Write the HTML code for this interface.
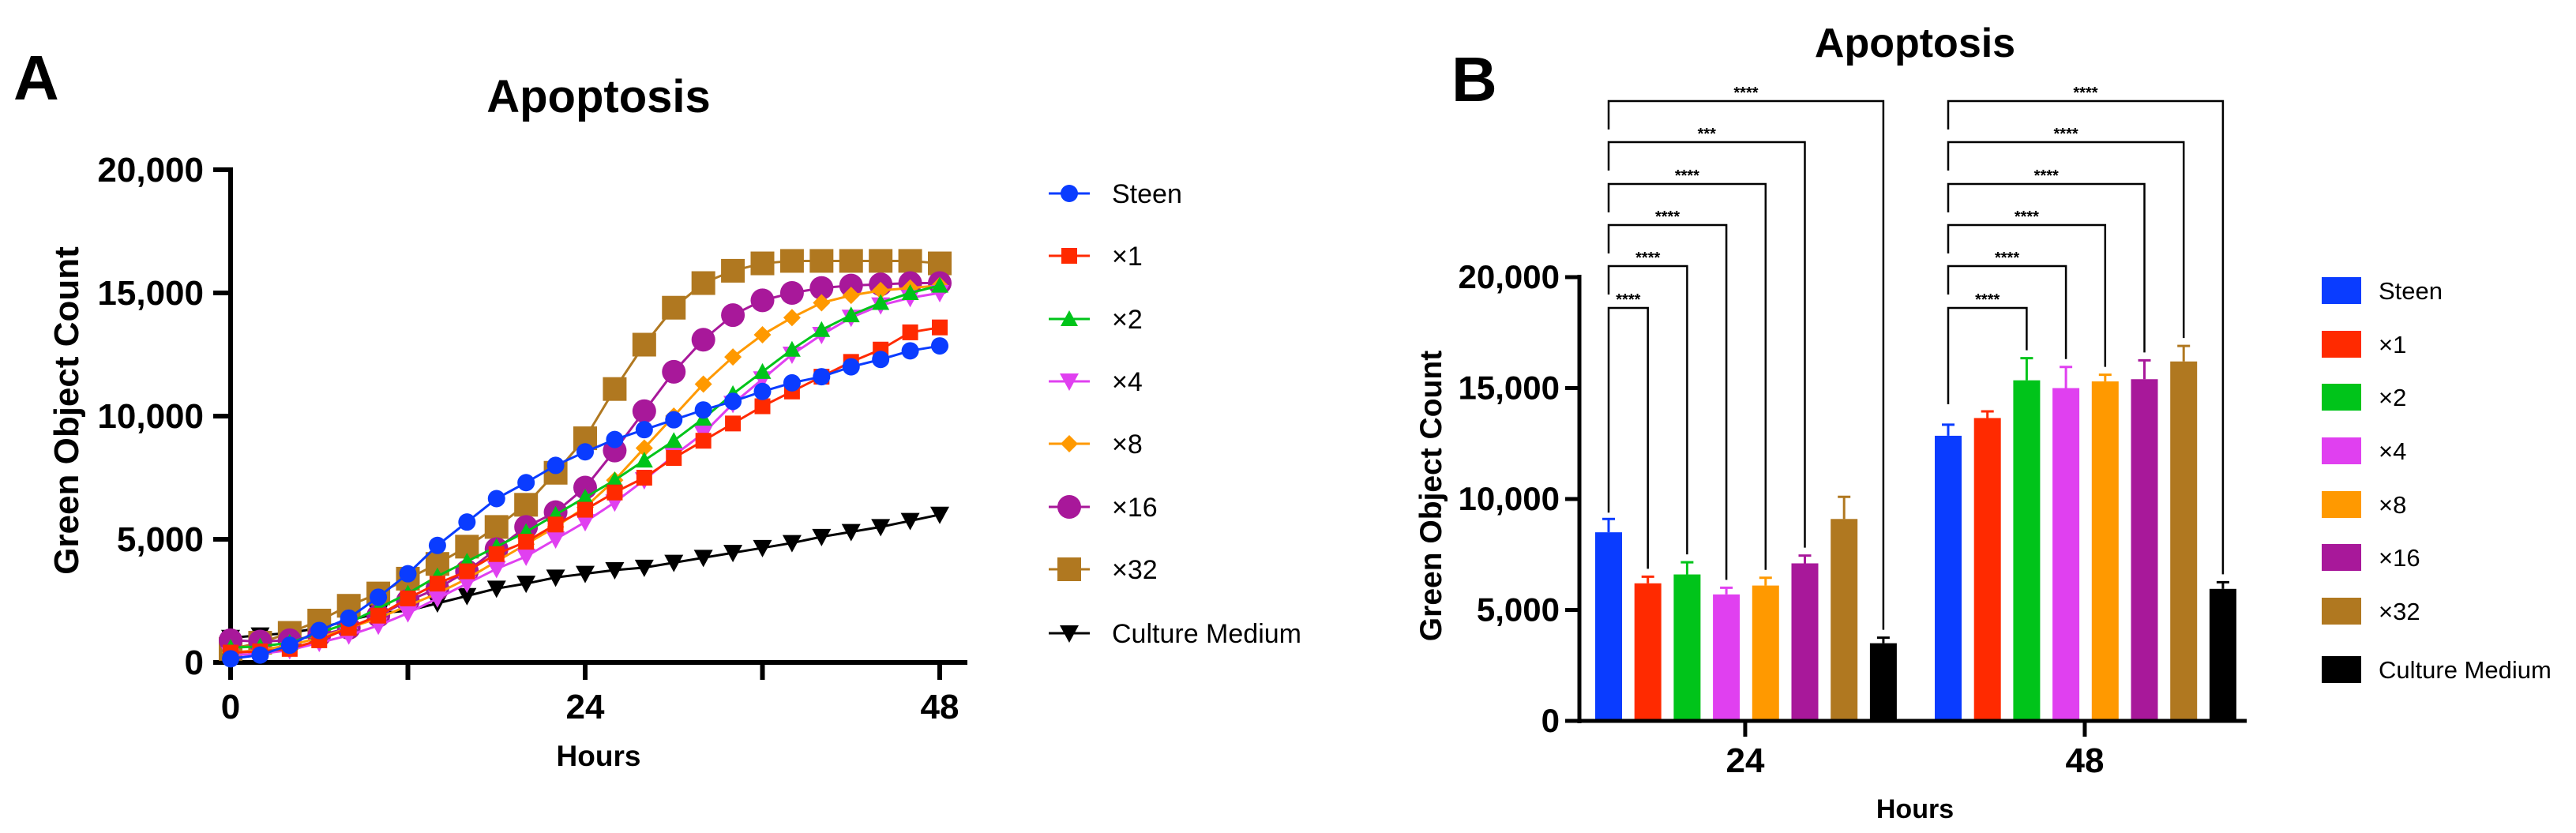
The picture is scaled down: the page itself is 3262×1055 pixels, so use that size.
<!DOCTYPE html>
<html><head><meta charset="utf-8"><style>
html,body{margin:0;padding:0;background:#fff;}
svg{display:block;font-family:"Liberation Sans",Arial,sans-serif;}
</style></head>
<body>
<svg id="fig" width="3262" height="1055" viewBox="0 0 3262 1055" xmlns="http://www.w3.org/2000/svg">
<rect width="3262" height="1055" fill="#fff"/>
<g id="panelA"></g>
<g id="panelB"></g>
</svg>
<script>
const hours = [0,2,4,6,8,10,12,14,16,18,20,22,24,26,28,30,32,34,36,38,40,42,44,46,48];
const seriesNames = ["Steen","×1","×2","×4","×8","×16","×32","Culture Medium"];
const steenVals = [150,300,700,1300,1800,2650,3600,4750,5700,6650,7300,8000,8550,9050,9450,9850,10250,10600,11000,11350,11600,12000,12300,12650,12850];
const x1Vals = [400,450,550,900,1400,1900,2600,3200,3700,4400,4900,5600,6200,6900,7500,8300,9000,9700,10400,11000,11600,12200,12700,13400,13600];
const x2Vals = [600,650,800,1200,1600,2200,2800,3500,4100,4700,5300,6000,6700,7400,8200,9000,9900,10900,11800,12700,13500,14100,14600,15000,15300];
const x4Vals = [300,350,500,800,1100,1500,2000,2600,3200,3800,4300,5000,5700,6500,7400,8400,9300,10500,11500,12500,13300,14000,14500,14800,15000];
const x8Vals = [400,500,700,1000,1400,1800,2300,2800,3400,4100,4800,5500,6300,7400,8700,10000,11300,12400,13300,14000,14600,14900,15100,15200,15300];
const x16Vals = [900,850,900,1100,1400,1900,2500,3000,3700,4600,5500,6100,7100,8600,10200,11800,13100,14100,14700,15000,15200,15300,15350,15400,15400];
const x32Vals = [550,800,1200,1700,2300,2800,3400,4000,4700,5500,6400,7700,9100,11100,12900,14400,15400,15900,16200,16300,16300,16300,16300,16300,16200];
const cmVals = [1000,1100,1200,1400,1700,2000,2100,2400,2700,3000,3200,3450,3600,3750,3850,4050,4250,4450,4650,4850,5100,5300,5500,5750,6000];
const yTicks = [0,5000,10000,15000,20000];
const yTickLabels = ["0","5,000","10,000","15,000","20,000"];
const xTicksA = [0,24,48];
const barGroups = ["24","48"];
const bars24 = [8500,6200,6600,5700,6100,7100,9100,3500];
const err24 = [600,300,550,300,350,350,1000,250];
const bars48 = [12850,13650,15350,15000,15300,15400,16200,5950];
const err48 = [500,300,1000,950,300,850,700,300];
const sig24Targets = [1,2,3,4,5,7];
const sig24Labels = ["****","****","****","****","***","****"];
const sig48Targets = [2,3,4,5,6,7];
const sig48Labels = ["****","****","****","****","****","****"];

const colors = ["#0a3cff","#ff2a00","#00c41a","#e040f0","#ff9900","#a8189a","#b07820","#000000"];
const markers = ["circle","square","tri","tridown","diamond","bigcircle","bigsquare","tridown"];
const NS = "http://www.w3.org/2000/svg";
function el(tag, attrs, parent, txt){
  const e = document.createElementNS(NS, tag);
  for (const k in attrs) e.setAttribute(k, attrs[k]);
  if (txt !== undefined) e.textContent = txt;
  parent.appendChild(e);
  return e;
}
function marker(g, type, cx, cy, c){
  let m;
  if (type==="circle") m = el("circle",{cx:cx,cy:cy,r:11,fill:c},g);
  else if (type==="bigcircle") m = el("circle",{cx:cx,cy:cy,r:15,fill:c},g);
  else if (type==="square") m = el("rect",{x:cx-10,y:cy-10,width:20,height:20,fill:c},g);
  else if (type==="bigsquare") m = el("rect",{x:cx-15,y:cy-15,width:30,height:30,fill:c},g);
  else if (type==="tri") m = el("polygon",{points:`${cx},${cy-11} ${cx+11},${cy+9} ${cx-11},${cy+9}`,fill:c},g);
  else if (type==="tridown") m = el("polygon",{points:`${cx-12},${cy-10} ${cx+12},${cy-10} ${cx},${cy+12}`,fill:c},g);
  else m = el("polygon",{points:`${cx},${cy-11} ${cx+11},${cy} ${cx},${cy+11} ${cx-11},${cy}`,fill:c},g);
  return m;
}

// ---------- Panel A ----------
const A = document.getElementById("panelA");
const ax0=292, ax48=1190, ay0=839, ay20=215;
const xA = h => ax0 + (ax48-ax0)*h/48;
const yA = v => ay0 - (ay0-ay20)*v/20000;
let t;
t = el("text",{x:17,y:126,"font-size":80,"font-weight":"bold"},A,"A");
 
t = el("text",{x:758,y:142,"font-size":58,"font-weight":"bold","text-anchor":"middle"},A,"Apoptosis");
 
t = el("text",{x:0,y:0,"font-size":44,"font-weight":"bold","text-anchor":"middle",transform:"translate(99,520) rotate(-90)"},A,"Green Object Count");
 
t = el("text",{x:758,y:970,"font-size":37,"font-weight":"bold","text-anchor":"middle"},A,"Hours");
 
let ax = el("line",{x1:ax0,y1:ay20-3,x2:ax0,y2:ay0+3,stroke:"#000","stroke-width":6},A);
 
ax = el("line",{x1:ax0-3,y1:ay0,x2:1225,y2:ay0,stroke:"#000","stroke-width":6},A);
 
yTicks.forEach((v,i)=>{
  el("line",{x1:ax0-22,y1:yA(v),x2:ax0,y2:yA(v),stroke:"#000","stroke-width":6},A);
  const tt = el("text",{x:258,y:yA(v)+15,"font-size":44,"font-weight":"bold","text-anchor":"end"},A,yTickLabels[i]);
   
});
[0,12,24,36,48].forEach(h=>el("line",{x1:xA(h),y1:ay0,x2:xA(h),y2:ay0+22,stroke:"#000","stroke-width":6},A));
xTicksA.forEach(h=>{
  const tt = el("text",{x:xA(h),y:910,"font-size":44,"font-weight":"bold","text-anchor":"middle"},A,String(h));
   
});
const seriesA = [steenVals,x1Vals,x2Vals,x4Vals,x8Vals,x16Vals,x32Vals,cmVals];
const drawOrder = [7,6,5,4,3,2,1,0];
drawOrder.forEach(si=>{
  const g = el("g",{},A);
  
  
  const pts = hours.map((h,i)=>xA(h)+","+yA(seriesA[si][i])).join(" ");
  el("polyline",{points:pts,fill:"none",stroke:colors[si],"stroke-width":3},g);
  hours.forEach((h,i)=>marker(g,markers[si],xA(h),yA(seriesA[si][i]),colors[si]));
});
const legAy = [245,324,404,483,562,642,721,802];
seriesNames.forEach((n,i)=>{
  const g = el("g",{},A);
  
  
  el("line",{x1:1328,y1:legAy[i],x2:1380,y2:legAy[i],stroke:colors[i],"stroke-width":3},g);
  marker(g,markers[i],1354,legAy[i],colors[i]);
  el("text",{x:1408,y:legAy[i]+12,"font-size":34},g,n);
});

// ---------- Panel B ----------
const B = document.getElementById("panelB");
const by0=913, by20=351, bxL=2000, bxR=2845;
const yB = v => by0 - (by0-by20)*v/20000;
const groupStart = [2037,2467], barStep = 49.7, barW = 34;
const xB = (g,i) => groupStart[g] + i*barStep;
t = el("text",{x:1838,y:128,"font-size":80,"font-weight":"bold"},B,"B");
 
t = el("text",{x:2425,y:72,"font-size":52,"font-weight":"bold","text-anchor":"middle"},B,"Apoptosis");
 
t = el("text",{x:0,y:0,"font-size":39,"font-weight":"bold","text-anchor":"middle",transform:"translate(1825,628) rotate(-90)"},B,"Green Object Count");
 
t = el("text",{x:2425,y:1036,"font-size":34,"font-weight":"bold","text-anchor":"middle"},B,"Hours");
 
yTicks.forEach((v,i)=>{
  el("line",{x1:bxL-18,y1:yB(v),x2:bxL,y2:yB(v),stroke:"#000","stroke-width":5},B);
  const tt = el("text",{x:1975,y:yB(v)+14,"font-size":42,"font-weight":"bold","text-anchor":"end"},B,yTickLabels[i]);
   
});
const barData = [bars24,bars48], errData = [err24,err48];
barData.forEach((vals,g)=>{
  vals.forEach((v,i)=>{
    const cx = xB(g,i);
    el("line",{x1:cx,y1:yB(v+errData[g][i]),x2:cx,y2:yB(v),stroke:colors[i],"stroke-width":3},B);
    el("line",{x1:cx-8,y1:yB(v+errData[g][i]),x2:cx+8,y2:yB(v+errData[g][i]),stroke:colors[i],"stroke-width":3},B);
    const r = el("rect",{x:cx-barW/2,y:yB(v),width:barW,height:by0-yB(v),fill:colors[i]},B);
    
    
  });
});
ax = el("line",{x1:bxL,y1:by20-3,x2:bxL,y2:by0+3,stroke:"#000","stroke-width":5},B);
 
ax = el("line",{x1:bxL-2,y1:by0,x2:bxR,y2:by0,stroke:"#000","stroke-width":5},B);
 
barGroups.forEach((lab,g)=>{
  const cx = (xB(g,0)+xB(g,7))/2 - 1;
  el("line",{x1:cx,y1:by0,x2:cx,y2:by0+20,stroke:"#000","stroke-width":5},B);
  const tt = el("text",{x:cx,y:978,"font-size":44,"font-weight":"bold","text-anchor":"middle"},B,lab);
   
});
const levelY = [390,337,285,233,180,128];
const sigT = [sig24Targets,sig48Targets], sigL = [sig24Labels,sig48Labels];
[0,1].forEach(g=>{
  sigT[g].forEach((ti,k)=>{
    const br = el("g",{},B);
    
    
    const lx = xB(g,0), rx = xB(g,ti), ly = levelY[k];
    const leftBottom = k===0 ? (g===0 ? yB(barData[g][0]+errData[g][0])-8 : 512) : ly+36;
    const rightBottom = yB(barData[g][ti]+errData[g][ti]) - 10;
    el("polyline",{points:`${lx},${leftBottom} ${lx},${ly} ${rx},${ly} ${rx},${rightBottom}`,fill:"none",stroke:"#000","stroke-width":2.5},br);
    el("text",{x:(lx+rx)/2,y:ly-4,"font-size":20,"font-weight":"bold","text-anchor":"middle"},br,sigL[g][k]);
  });
});
const legBy = [368,436,503,571,639,706,774,848];
seriesNames.forEach((n,i)=>{
  const g = el("g",{},B);
  
  
  el("rect",{x:2940,y:legBy[i]-17,width:50,height:34,fill:colors[i]},g);
  el("text",{x:3012,y:legBy[i]+11,"font-size":31},g,n);
});
</script>
</body></html>
